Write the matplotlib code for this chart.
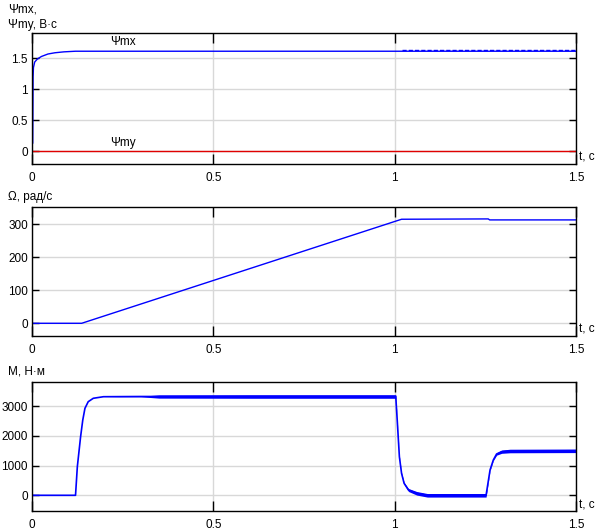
import matplotlib
matplotlib.use("Agg")
import matplotlib.pyplot as plt

# ---- data ----
psi_t = [0.002, 0.003, 0.004, 0.0074, 0.015, 0.026, 0.044, 0.063, 0.088, 0.12, 1.5]
psi_mx = [0.13, 1.2, 1.35, 1.44, 1.49, 1.53, 1.57, 1.59, 1.605, 1.615, 1.615]
psi_ripple_t = [1.02, 1.5]
psi_ripple_v = [1.632, 1.632]
psi_my_t = [0, 1.5]
psi_my = [0, 0]

om_t = [0, 0.137, 1.019, 1.258, 1.262, 1.5]
om_v = [0, 0, 315, 316, 313, 313]

m_t = [0, 0.12, 0.125, 0.134, 0.14, 0.146, 0.155, 0.169, 0.197, 0.3, 0.35, 0.6, 0.9,
       1.003, 1.007, 1.013, 1.019, 1.026, 1.038, 1.061, 1.09, 1.252, 1.263, 1.272,
       1.281, 1.295, 1.318, 1.5]
m_v = [0, 0, 964, 1975, 2538, 2932, 3155, 3270, 3323, 3330, 3330, 3330, 3330,
       3330, 2538, 1300, 741, 404, 179, 67, 0, 0, 853, 1190, 1392, 1470, 1493, 1500]
m_ripple = [0, 0, 0, 0, 0, 0, 0, 0, 0, 10, 55, 60, 60,
            60, 20, 20, 20, 30, 50, 60, 60, 60, 20, 20, 40, 55, 60, 60]

x_ticks = [0, 0.5, 1, 1.5]
x_ticklabels = ["0", "0.5", "1", "1.5"]
psi_yticks = [0, 0.5, 1, 1.5]
psi_yticklabels = ["0", "0.5", "1", "1.5"]
om_yticks = [0, 100, 200, 300]
m_yticks = [0, 1000, 2000, 3000]

plt.rcParams['font.family'] = ['Liberation Sans', 'DejaVu Sans']
plt.rcParams['font.size'] = 8.5

BLUE = '#0000ff'
RED = '#e00000'
W, H = 603, 532
fig = plt.figure(figsize=(W / 100, H / 100), dpi=100)

def make_ax(top_px, bot_px):
    left = 32 / W
    width = (576 - 32) / W
    bottom = (H - bot_px) / H
    height = (bot_px - top_px) / H
    ax = fig.add_axes([left, bottom, width, height])
    ax.set_xlim(0, 1.5)
    ax.set_xticks(x_ticks)
    ax.set_xticklabels(x_ticklabels)
    ax.tick_params(axis='x', direction='in', length=7, width=1, top=True, bottom=True,
                   pad=6, labelsize=8.5)
    ax.tick_params(axis='y', direction='in', length=5, width=1, left=True, right=True,
                   pad=3, labelsize=8.5)
    ax.grid(True, color='#d8d8d8', linewidth=1)
    ax.set_axisbelow(True)
    for s in ax.spines.values():
        s.set_color('black')
        s.set_linewidth(1)
    ax.text(1.005, 0.0, "t, c", transform=ax.transAxes, ha='left', va='bottom', fontsize=8.5)
    return ax

# Panel 1
ax1 = make_ax(33, 164)
ax1.set_ylim(-0.21, 1.91)
ax1.set_yticks(psi_yticks)
ax1.set_yticklabels(psi_yticklabels)
ax1.plot(psi_my_t, psi_my, color=RED, lw=1)
ax1.plot(psi_t, psi_mx, color=BLUE, lw=1)
ax1.plot(psi_ripple_t, psi_ripple_v, color=BLUE, lw=1, linestyle=(0, (3, 1.5)))
ax1.text(0.25, 1.66, "Ψmx", ha='center', va='bottom', fontsize=8.5)
ax1.text(0.25, 0.03, "Ψmy", ha='center', va='bottom', fontsize=8.5)
fig.text(8 / W, 1 - 10 / H, "Ψmx,", ha='left', va='center', fontsize=8.5)
fig.text(8 / W, 1 - 25 / H, "Ψmy, В·с", ha='left', va='center', fontsize=8.5)

# Panel 2
ax2 = make_ax(206.7, 336)
ax2.set_ylim(-38.5, 353)
ax2.set_yticks(om_yticks)
ax2.set_yticklabels([str(v) for v in om_yticks])
ax2.plot(om_t, om_v, color=BLUE, lw=1)
fig.text(8 / W, 1 - 197 / H, "Ω, рад/с", ha='left', va='center', fontsize=8.5)

# Panel 3
ax3 = make_ax(381.7, 511)
ax3.set_ylim(-529, 3829)
ax3.set_yticks(m_yticks)
ax3.set_yticklabels([str(v) for v in m_yticks])
lo = [v - r for v, r in zip(m_v, m_ripple)]
hi = [v + r for v, r in zip(m_v, m_ripple)]
ax3.fill_between(m_t, lo, hi, color=BLUE, linewidth=0)
ax3.plot(m_t, m_v, color=BLUE, lw=1.2)
fig.text(8 / W, 1 - 372 / H, "М, Н·м", ha='left', va='center', fontsize=8.5)

fig.savefig("out.png", dpi=100)
